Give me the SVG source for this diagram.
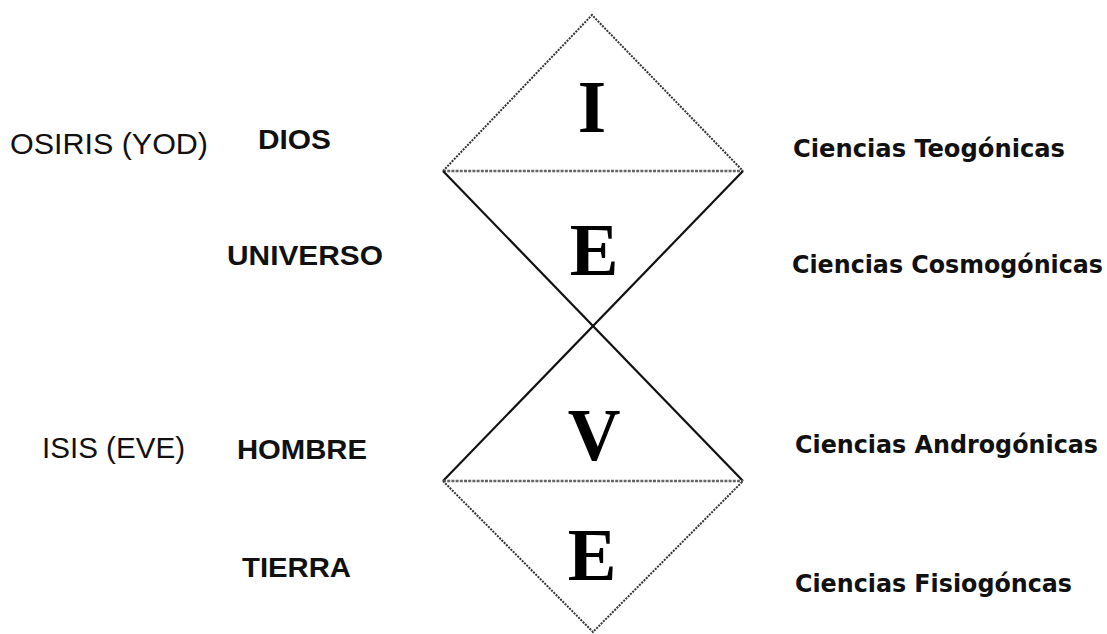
<svg xmlns="http://www.w3.org/2000/svg" width="1107" height="634" viewBox="0 0 1107 634">
<style>
.reg{font-family:"Liberation Sans",Arial,sans-serif;font-size:29px;fill:#111}
.bold{font-family:"Liberation Sans",Arial,sans-serif;font-size:28px;font-weight:bold;fill:#111}
.sci{font-family:"DejaVu Sans Condensed","DejaVu Sans",sans-serif;font-size:25px;font-weight:bold;fill:#111}
.letter{font-family:"Liberation Serif","Times New Roman",serif;font-size:73px;font-weight:bold;fill:#000;text-anchor:middle}
.dot{stroke:#333;stroke-width:2;stroke-dasharray:2 1.2;fill:none}
.solid{stroke:#111;stroke-width:2.2;fill:none}
.mid{stroke:#666;stroke-width:2.5;stroke-dasharray:3 1.2;fill:none}
</style>
<rect width="1107" height="634" fill="#fff"/>
<g id="connectors">
<path class="dot" d="M443,171 L592,15 L743,171"/>
<path class="mid" d="M443,171 L743,171"/>
<path class="solid" d="M443,171 L743,481"/>
<path class="solid" d="M743,171 L443,481"/>
<path class="mid" d="M443,481 L743,481"/>
<path class="dot" d="M443,481 L593,632 L743,481"/>
</g>
<g id="letter-I"><text class="letter" x="592" y="132">I</text></g>
<g id="letter-E1"><text class="letter" x="594" y="275">E</text></g>
<g id="letter-V"><text class="letter" x="594" y="460">V</text></g>
<g id="letter-E2"><text class="letter" x="592" y="580">E</text></g>
<g id="osiris"><text class="reg" x="10" y="154" textLength="198" lengthAdjust="spacingAndGlyphs">OSIRIS (YOD)</text></g>
<g id="dios"><text class="bold" x="258" y="149" textLength="73" lengthAdjust="spacingAndGlyphs">DIOS</text></g>
<g id="universo"><text class="bold" x="227" y="265" textLength="156" lengthAdjust="spacingAndGlyphs">UNIVERSO</text></g>
<g id="isis"><text class="reg" x="42" y="458" textLength="143" lengthAdjust="spacingAndGlyphs">ISIS (EVE)</text></g>
<g id="hombre"><text class="bold" x="237" y="459" textLength="130" lengthAdjust="spacingAndGlyphs">HOMBRE</text></g>
<g id="tierra"><text class="bold" x="242" y="577" textLength="109" lengthAdjust="spacingAndGlyphs">TIERRA</text></g>
<g id="teogonicas"><text class="sci" x="793" y="157" textLength="272" lengthAdjust="spacingAndGlyphs">Ciencias Teogónicas</text></g>
<g id="cosmogonicas"><text class="sci" x="792" y="273" textLength="311" lengthAdjust="spacingAndGlyphs">Ciencias Cosmogónicas</text></g>
<g id="androgonicas"><text class="sci" x="795" y="453" textLength="303" lengthAdjust="spacingAndGlyphs">Ciencias Androgónicas</text></g>
<g id="fisiogoncas"><text class="sci" x="795" y="592" textLength="277" lengthAdjust="spacingAndGlyphs">Ciencias Fisiogóncas</text></g>
</svg>
